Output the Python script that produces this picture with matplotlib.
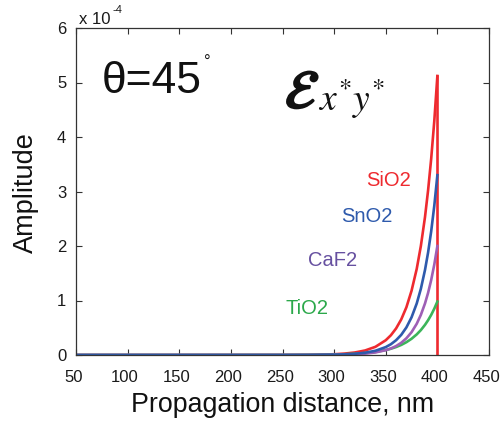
import numpy as np
import matplotlib
matplotlib.use("Agg")
import matplotlib.pyplot as plt
import matplotlib.patheffects as pe
from matplotlib.transforms import ScaledTranslation

# ---- data (amplitude in units of 1e-4) ----
distance = [50, 150, 250, 275, 300, 310, 320, 330, 340, 350, 355, 360, 365,
            370, 375, 380, 384, 388, 391, 394, 397, 400]
sio2 = [0.0, 0.0, 0.001, 0.003, 0.014, 0.026, 0.046, 0.083, 0.150, 0.271, 0.363,
        0.487, 0.653, 0.876, 1.18, 1.58, 2.00, 2.53, 3.02, 3.60, 4.29, 5.12]
sno2 = [0.0, 0.0, 0.0, 0.001, 0.006, 0.012, 0.022, 0.042, 0.078, 0.145, 0.198,
        0.271, 0.370, 0.506, 0.692, 0.945, 1.214, 1.559, 1.880, 2.268, 2.736, 3.30]
caf2 = [0.0, 0.0, 0.0, 0.001, 0.004, 0.007, 0.014, 0.025, 0.047, 0.088, 0.120,
        0.164, 0.224, 0.307, 0.419, 0.573, 0.736, 0.945, 1.140, 1.375, 1.658, 2.00]
tio2 = [0.0, 0.0, 0.001, 0.003, 0.008, 0.014, 0.022, 0.035, 0.056, 0.091, 0.115,
        0.146, 0.185, 0.235, 0.298, 0.378, 0.457, 0.553, 0.638, 0.736, 0.849, 0.98]
# the SiO2 curve drops straight back to zero at the interface
drop_x = [400, 400]
drop_y = [5.12, 0.0]

x_ticks = [50, 100, 150, 200, 250, 300, 350, 400, 450]
y_ticks = [0, 1, 2, 3, 4, 5, 6]

RED = "#ee2a2f"
BLUE = "#2e5aac"
PURPLE = "#9e5fb5"
GREEN = "#3cb55a"

plt.rcParams["font.family"] = ["Liberation Sans", "DejaVu Sans"]

W, H = 502, 421
fig = plt.figure(figsize=(W / 100, H / 100), dpi=100)
ax = fig.add_axes([76 / W, 1 - 355 / H, (489 - 76) / W, (355 - 28) / H])

lw = 1.9
ax.plot(distance, sio2, color=RED, lw=lw)
ax.plot(drop_x, drop_y, color=RED, lw=lw)
ax.plot(distance, tio2, color=GREEN, lw=lw)
ax.plot(distance, caf2, color=PURPLE, lw=lw)
ax.plot(distance, sno2, color=BLUE, lw=lw)

ax.set_xlim(50, 450)
ax.set_ylim(0, 6)
ax.set_xticks(x_ticks)
ax.set_yticks(y_ticks)
ax.tick_params(direction="in", length=4, width=0.8, top=True, right=True,
               labelsize=12, colors="#333333", labelcolor="#1a1a1a")
ax.tick_params(axis="x", pad=11)
ax.tick_params(axis="y", pad=7)
for sp in ax.spines.values():
    sp.set_color("#333333")
    sp.set_linewidth(0.9)

# x tick labels sit a couple of pixels left of their ticks in the original
shift = ScaledTranslation(-2.5 / 100, 0, fig.dpi_scale_trans)
for lab in ax.get_xticklabels():
    lab.set_transform(lab.get_transform() + shift)

# axis labels
fig.text(282.5 / W, 1 - 412.5 / H, "Propagation distance, nm", fontsize=19.3,
         ha="center", va="baseline", color="#111111")
fig.text(33 / W, 1 - 192.5 / H, "Amplitude", fontsize=19.5, rotation=90,
         rotation_mode="anchor", ha="center", va="baseline", color="#111111")

# exponent marker
fig.text(79 / W, 1 - 23.5 / H, "x 10", fontsize=12, va="baseline", color="#1a1a1a")
fig.text(113 / W, 1 - 13 / H, "-4", fontsize=8, va="baseline", color="#1a1a1a")

# annotations
fig.text(102 / W, 1 - 93 / H, "\u03b8=45", fontsize=32, va="baseline", color="#111111")
fig.text(204 / W, 1 - 67 / H, "\u00b0", fontsize=12, va="baseline", color="#111111")
fig.text(285 / W, 1 - 108 / H, r"$\mathcal{E}$", fontsize=39, va="baseline",
         math_fontfamily="stix", color="#111111",
         path_effects=[pe.withStroke(linewidth=1.6, foreground="#111111")])
fig.text(318 / W, 1 - 111 / H, r"$x^{*}y^{*}$", fontsize=27, va="baseline",
         math_fontfamily="stix", color="#111111")

fig.text(388.7 / W, 1 - 180 / H, "SiO2", fontsize=14.5, ha="center", va="center", color=RED)
fig.text(366.7 / W, 1 - 216.7 / H, "SnO2", fontsize=14.5, ha="center", va="center", color=BLUE)
fig.text(332.5 / W, 1 - 261 / H, "CaF2", fontsize=14.5, ha="center", va="center", color="#6650a0")
fig.text(307 / W, 1 - 309 / H, "TiO2", fontsize=14.5, ha="center", va="center", color="#2ba84a")

fig.savefig("out.png", dpi=100)
